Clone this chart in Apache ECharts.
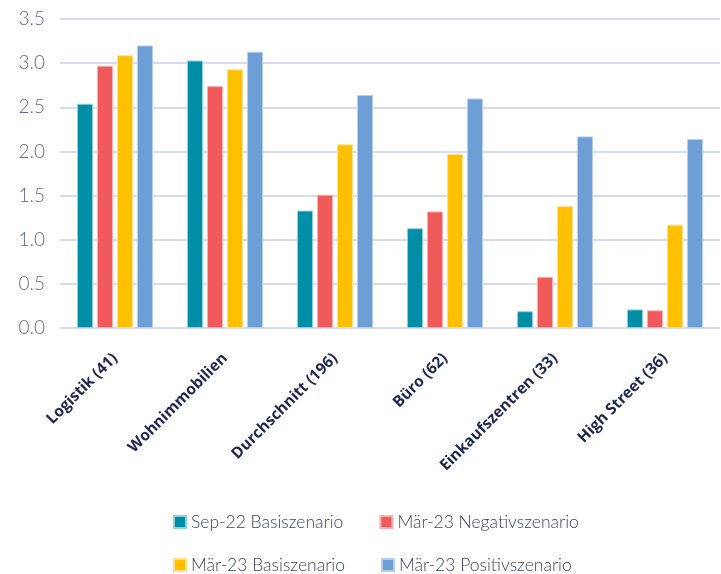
<!DOCTYPE html>
<html>
<head>
<meta charset="utf-8">
<script src="https://cdn.jsdelivr.net/npm/echarts@6/dist/echarts.min.js"></script>
<style>html,body{margin:0;padding:0;background:#fff}#c{width:721px;height:574px}</style>
</head>
<body>
<div id="c"></div>
<script>
const categories = ['Logistik (41)', 'Wohnimmobilien', 'Durchschnitt (196)', 'Büro (62)', 'Einkaufszentren (33)', 'High Street (36)'];
const seriesNames = ['Sep-22 Basiszenario', 'Mär-23 Negativszenario', 'Mär-23 Basiszenario', 'Mär-23 Positivszenario'];
const sep22Basis = [2.54, 3.03, 1.33, 1.13, 0.19, 0.21];
const mar23Negativ = [2.97, 2.74, 1.51, 1.32, 0.58, 0.20];
const mar23Basis = [3.09, 2.93, 2.08, 1.97, 1.38, 1.17];
const mar23Positiv = [3.20, 3.13, 2.64, 2.60, 2.17, 2.14];
const yTicks = ['0.0', '0.5', '1.0', '1.5', '2.0', '2.5', '3.0', '3.5'];

const colors = ['#008ea6', '#f05a5a', '#ffc000', '#6d9fd6'];
const borders = ['#8fd0dc', '#f8b0b0', '#ffe08a', '#b6cff0'];
const values = [sep22Basis, mar23Negativ, mar23Basis, mar23Positiv];

const chart = echarts.init(document.getElementById('c'));
const legendText = { color: '#3c4468', fontSize: 17.5, fontFamily: 'Lato', fontWeight: 300 };
chart.setOption({
  animation: false,
  grid: { left: 60, right: 1, top: 19, bottom: 246 },
  legend: [
    { data: [seriesNames[0], seriesNames[1]], left: 168, top: 508, itemWidth: 12, itemHeight: 12, itemGap: 36, icon: 'rect', textStyle: legendText },
    { data: [seriesNames[2], seriesNames[3]], left: 168, top: 551, itemWidth: 12, itemHeight: 12, itemGap: 36, icon: 'rect', textStyle: legendText }
  ],
  xAxis: {
    type: 'category',
    data: categories,
    axisLine: { show: false },
    axisTick: { show: false },
    axisLabel: {
      rotate: 45, interval: 0, margin: 28,
      color: '#1e2650', fontSize: 15.5, fontWeight: 700, fontFamily: 'Open Sans'
    }
  },
  yAxis: {
    type: 'value', min: 0, max: 3.5, interval: 0.5,
    axisLabel: {
      margin: 15, color: '#646a8a', fontSize: 19, fontFamily: 'Lato', fontWeight: 300,
      formatter: (v) => yTicks[Math.round(v / 0.5)]
    },
    splitLine: { lineStyle: { color: '#d6dbf0', width: 2 } },
    axisLine: { show: false }, axisTick: { show: false }
  },
  series: values.map((d, i) => ({
    name: seriesNames[i],
    type: 'bar',
    data: d,
    barWidth: 16,
    barGap: '25%',
    itemStyle: { color: colors[i], borderColor: borders[i], borderWidth: 1 }
  }))
});
</script>
</body>
</html>
